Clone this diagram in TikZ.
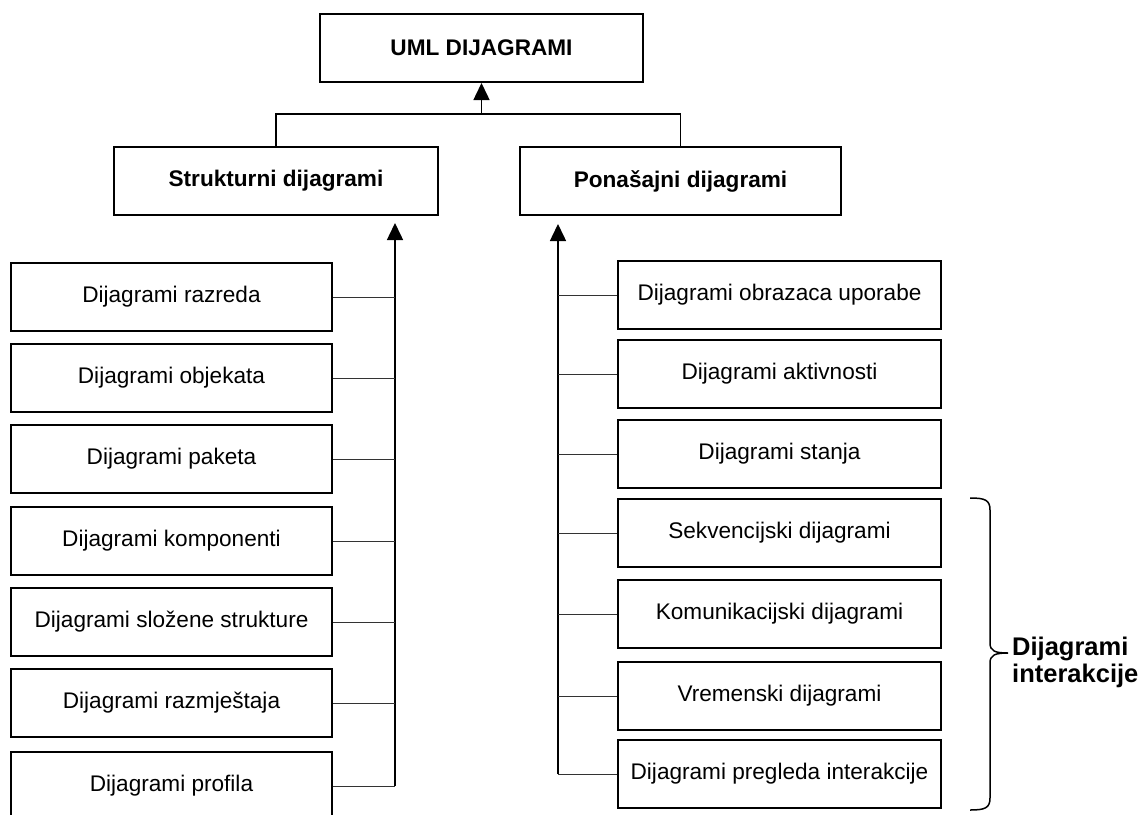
\documentclass[tikz,border=0pt]{standalone}
\usepackage{fontspec}
\setmainfont{Liberation Sans}
\usetikzlibrary{arrows.meta}
\begin{document}
\begin{tikzpicture}[x=1pt,y=-1pt,
  box/.style={draw=black, line width=2pt, minimum height=68pt, inner sep=0pt,
    font=\fontsize{22.6}{27}\selectfont},
  lbox/.style={box, minimum width=321pt},
  rbox/.style={box, minimum width=323pt},
  bbox/.style={box, font=\fontsize{22.6}{27}\selectfont\bfseries},
  conn/.style={draw=black!80, line width=1pt},
  spine/.style={draw=black, line width=1.5pt},
  uparrow/.style={spine, -{Triangle[width=16pt,length=17pt]}},
  brace/.style={draw=black, line width=1.5pt},
  lbl/.style={font=\fontsize{25.5}{27}\selectfont\bfseries, align=left, inner sep=0pt, anchor=north west}
]
\clip (0,0) rectangle (1146,814);
\fill[white] (0,0) rectangle (1146,814);

% top level
\node[bbox, minimum width=323pt] (uml) at (481.5,48) {UML DIJAGRAMI};
\node[bbox, minimum width=324pt] (struk) at (276,181) {Strukturni dijagrami};
\node[bbox, minimum width=321pt] (pona) at (680.5,181) {Ponašajni dijagrami};
\coordinate (j) at (481.5,114);
\draw[spine] (struk.north) |- (j) -| (pona.north);
\draw[uparrow] (j) -- (uml.south);

% left column
\node[lbox] (l1) at (171.5,297) {Dijagrami razreda};
\node[lbox] (l2) at (171.5,378) {Dijagrami objekata};
\node[lbox] (l3) at (171.5,459) {Dijagrami paketa};
\node[lbox] (l4) at (171.5,541) {Dijagrami komponenti};
\node[lbox] (l5) at (171.5,622) {Dijagrami složene strukture};
\node[lbox] (l6) at (171.5,703) {Dijagrami razmještaja};
\node[lbox] (l7) at (171.5,786) {Dijagrami profila};
\coordinate (ltop) at (395,223);
\coordinate (lbot) at (395,786);
\draw[uparrow] (lbot) -- (ltop);
\foreach \n in {l1,l2,l3,l4,l5,l6,l7}
  \draw[conn] (\n.east) -- (\n.east -| ltop);

% right column
\node[rbox] (r1) at (779.5,295) {Dijagrami obrazaca uporabe};
\node[rbox] (r2) at (779.5,374) {Dijagrami aktivnosti};
\node[rbox] (r3) at (779.5,454) {Dijagrami stanja};
\node[rbox] (r4) at (779.5,533) {Sekvencijski dijagrami};
\node[rbox] (r5) at (779.5,614) {Komunikacijski dijagrami};
\node[rbox] (r6) at (779.5,696) {Vremenski dijagrami};
\node[rbox] (r7) at (779.5,774) {Dijagrami pregleda interakcije};
\coordinate (rtop) at (558,224);
\coordinate (rbot) at (558,774);
\draw[uparrow] (rbot) -- (rtop);
\foreach \n in {r1,r2,r3,r4,r5,r6,r7}
  \draw[conn] (\n.west) -- (\n.west -| rtop);

% brace and label
\coordinate (bt) at (970,498);
\coordinate (bm) at (1008,653);
\coordinate (bb) at (970,810);
\draw[brace] (bt) .. controls (985,498) and (990,500) .. (990,510) -- (990,643)
  .. controls (990,651) and (995,653) .. (bm)
  .. controls (995,653) and (990,655) .. (990,663) -- (990,798)
  .. controls (990,808) and (985,810) .. (bb);
\node[lbl] (lab) at (1012,637) {Dijagrami\\interakcije};
\end{tikzpicture}
\end{document}
